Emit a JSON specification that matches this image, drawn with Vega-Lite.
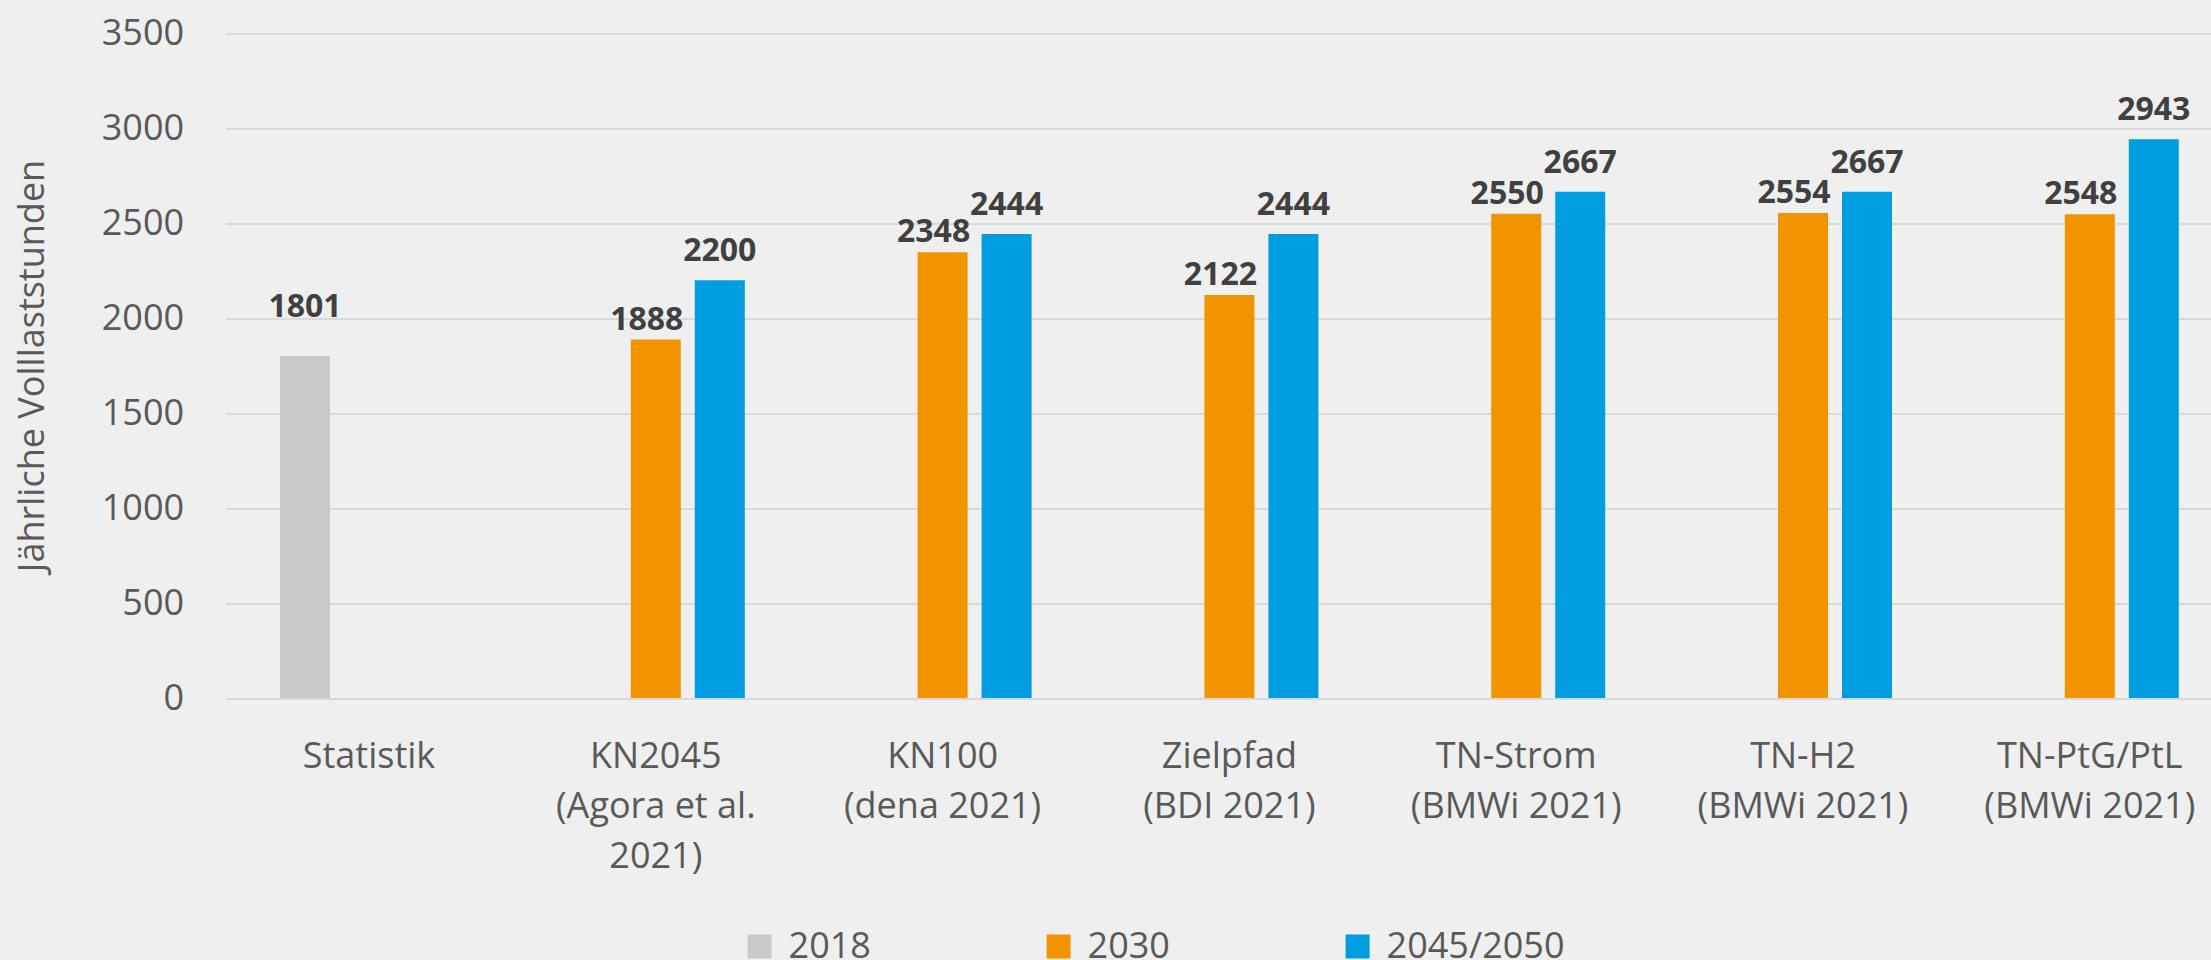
{
  "$schema": "https://vega.github.io/schema/vega-lite/v6.json",
  "width": 1985.4,
  "height": 664.5,
  "autosize": {"type": "none"},
  "padding": {"left": 225.6, "top": 33.5, "right": 0, "bottom": 262},
  "background": "#efefef",
  "config": {"view": {"stroke": null}, "font": "Open Sans"},
  "data": {
    "values": [
      {"szenario": "Statistik", "jahr": "2018", "wert": 1801},
      {"szenario": "KN2045|(Agora et al.|2021)", "jahr": "2030", "wert": 1888},
      {"szenario": "KN2045|(Agora et al.|2021)", "jahr": "2045/2050", "wert": 2200},
      {"szenario": "KN100|(dena 2021)", "jahr": "2030", "wert": 2348},
      {"szenario": "KN100|(dena 2021)", "jahr": "2045/2050", "wert": 2444},
      {"szenario": "Zielpfad|(BDI 2021)", "jahr": "2030", "wert": 2122},
      {"szenario": "Zielpfad|(BDI 2021)", "jahr": "2045/2050", "wert": 2444},
      {"szenario": "TN-Strom|(BMWi 2021)", "jahr": "2030", "wert": 2550},
      {"szenario": "TN-Strom|(BMWi 2021)", "jahr": "2045/2050", "wert": 2667},
      {"szenario": "TN-H2|(BMWi 2021)", "jahr": "2030", "wert": 2554},
      {"szenario": "TN-H2|(BMWi 2021)", "jahr": "2045/2050", "wert": 2667},
      {"szenario": "TN-PtG/PtL|(BMWi 2021)", "jahr": "2030", "wert": 2548},
      {"szenario": "TN-PtG/PtL|(BMWi 2021)", "jahr": "2045/2050", "wert": 2943}
    ]
  },
  "encoding": {
    "x": {
      "field": "szenario",
      "type": "nominal",
      "sort": null,
      "scale": {"range": [0, 2007.6], "paddingInner": 0, "paddingOuter": 0},
      "axis": {
        "title": null,
        "labelExpr": "split(datum.label, '|')",
        "labelAngle": 0,
        "labelFontSize": 36,
        "labelColor": "#595959",
        "labelPadding": 69,
        "labelBaseline": "alphabetic",
        "labelLineHeight": 50,
        "labelLimit": 500,
        "labelOverlap": false,
        "labelBound": false,
        "ticks": false,
        "domain": false,
        "grid": false
      }
    },
    "xOffset": {
      "field": "jahr",
      "type": "nominal",
      "scale": {"domain": ["2018", "2030", "2045/2050"], "paddingInner": 0.21875, "paddingOuter": 0.85}
    },
    "y": {
      "field": "wert",
      "type": "quantitative",
      "scale": {"domain": [0, 3500], "nice": false},
      "axis": {
        "values": [0, 500, 1000, 1500, 2000, 2500, 3000, 3500],
        "format": "d",
        "title": "Jährliche Volllaststunden",
        "titleFontSize": 36,
        "titleFontWeight": "normal",
        "titleColor": "#595959",
        "titleX": -182.6,
        "titleY": 332,
        "titleAngle": -90,
        "titleAlign": "center",
        "titleBaseline": "alphabetic",
        "labelFontSize": 36,
        "labelColor": "#595959",
        "labelPadding": 42,
        "ticks": false,
        "domain": false,
        "gridColor": "#d9d9d9",
        "gridWidth": 2
      }
    }
  },
  "layer": [
    {
      "mark": {"type": "bar"},
      "encoding": {
        "color": {
          "field": "jahr",
          "type": "nominal",
          "scale": {"domain": ["2018", "2030", "2045/2050"], "range": ["#c9c9c9", "#f29400", "#009ee0"]},
          "legend": {
            "title": null,
            "orient": "none",
            "legendX": 516,
            "legendY": 895,
            "direction": "horizontal",
            "columns": 3,
            "gridAlign": "all",
            "columnPadding": 74,
            "symbolType": "square",
            "symbolSize": 576,
            "symbolStrokeWidth": 0,
            "symbolOpacity": 1,
            "labelFontSize": 36,
            "labelColor": "#595959",
            "labelOffset": 11,
            "labelLimit": 400
          }
        }
      }
    },
    {
      "transform": [{"filter": "datum.jahr === '2018'"}],
      "mark": {"type": "text", "dy": -39, "baseline": "alphabetic", "fontWeight": "bold", "fontSize": 32, "color": "#404040"},
      "encoding": {
        "text": {"field": "wert", "type": "quantitative", "format": "d"}
      }
    },
    {
      "transform": [{"filter": "datum.jahr === '2030'"}],
      "mark": {"type": "text", "dy": -10, "dx": -9, "baseline": "alphabetic", "fontWeight": "bold", "fontSize": 32, "color": "#404040"},
      "encoding": {
        "text": {"field": "wert", "type": "quantitative", "format": "d"}
      }
    },
    {
      "transform": [{"filter": "datum.jahr === '2045/2050'"}],
      "mark": {"type": "text", "dy": -19, "baseline": "alphabetic", "fontWeight": "bold", "fontSize": 32, "color": "#404040"},
      "encoding": {
        "text": {"field": "wert", "type": "quantitative", "format": "d"}
      }
    }
  ]
}
